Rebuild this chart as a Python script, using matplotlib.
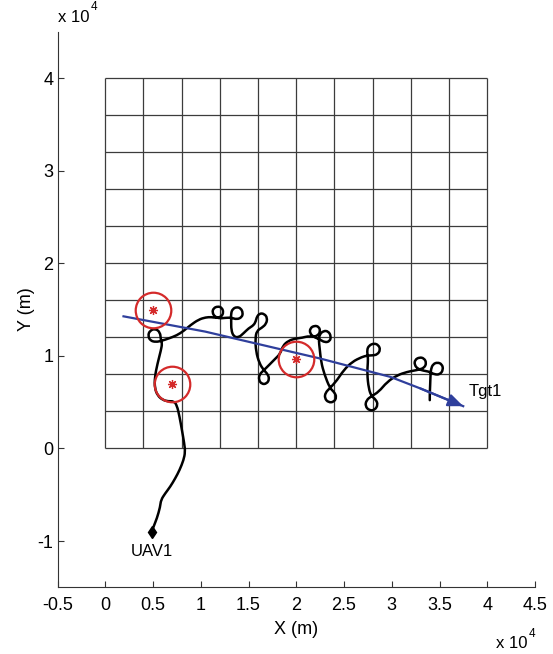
import matplotlib
matplotlib.use("Agg")
import matplotlib.pyplot as plt
from matplotlib.path import Path
from matplotlib.patches import PathPatch

plt.rcParams['font.family'] = ['Liberation Sans', 'DejaVu Sans']

# UAV1 flight path (m), start point first
path_x = [4880, 5050, 5410, 5750, 5830, 6280, 6800, 7330, 7780, 8200,
          8370, 8270, 8030, 7780, 7500, 7170, 6590, 6020, 5490, 5180,
          5180, 5470, 5830, 5960, 5810, 5750, 5230, 4650, 4480, 4710,
          5280, 5910, 6620, 7500, 8200, 8900, 9770, 10520, 11100, 11620,
          12150, 12390, 12200, 11780, 11340, 11200, 11470, 11990, 12570, 13190,
          13770, 14300, 14420, 14190, 13770, 13350, 13160, 13190, 13190, 13440,
          13960, 14480, 15010, 15530, 15760, 15870, 16180, 16650, 16970, 16860,
          16390, 15870, 15710, 15780, 16130, 16600, 17020, 17180, 16910, 16390,
          16060, 16160, 16600, 17180, 17750, 18330, 18590, 19170, 19900, 20640,
          21210, 21740, 22260, 22520, 22360, 21890, 21450, 21420, 21840, 22420,
          22990, 23520, 23640, 23360, 22840, 22420, 22360, 22450, 22600, 22940,
          23520, 23990, 24220, 23940, 23360, 22970, 23050, 23520, 24270, 24960,
          25840, 26890, 27450, 27970, 28500, 28810, 28600, 28130, 27600, 27400,
          27500, 27500, 27420, 27580, 27870, 28340, 28550, 28230, 27660, 27220,
          27340, 27870, 28630, 29510, 30560, 31610, 32270, 32840, 33420, 33630,
          33370, 32900, 32430, 32370, 32740, 33320, 33950, 34470, 35050, 35390,
          35260, 34780, 34310, 34100, 34050, 34020, 33980, 33980]
path_y = [-8980, -8440, -7540, -6290, -5560, -4840, -4130, -3220, -2330, -1250,
          -360, 550, 1980, 3420, 4680, 5110, 5090, 5240, 5700, 6510,
          7700, 9170, 10610, 11360, 11740, 12550, 12950, 12710, 12170, 11650,
          11490, 11630, 11870, 12220, 12690, 13300, 13920, 14160, 14190, 14100,
          14220, 14700, 15220, 15350, 15160, 14700, 14220, 14040, 14110, 14130,
          13930, 14170, 14650, 15140, 15280, 15080, 14600, 13730, 12800, 12080,
          11980, 12440, 12980, 13300, 13730, 14220, 14600, 14540, 14110, 13460,
          13030, 12710, 11900, 10470, 9210, 8450, 8020, 7480, 7000, 6940,
          7430, 8020, 8450, 9040, 9640, 10230, 11090, 11630, 11870, 11960,
          12120, 12060, 12190, 12660, 13160, 13270, 12980, 12440, 12030, 11810,
          11440, 11580, 12120, 12660, 12710, 12280, 11630, 10820, 9350, 8020,
          6510, 6080, 5540, 5020, 4970, 5430, 6030, 6510, 7370, 8450,
          9350, 9890, 10040, 10050, 10140, 10660, 11180, 11360, 11110, 10610,
          9960, 9310, 8100, 6480, 5650, 5270, 4730, 4160, 4090, 4570,
          5220, 5650, 6110, 7190, 7910, 8270, 8400, 8510, 8720, 9260,
          9750, 9850, 9580, 9040, 8580, 8400, 8290, 7990, 7990, 8510,
          9100, 9310, 9100, 8560, 7800, 6830, 5970, 5220]

# Tgt1 track (m)
tgt_x = [1910, 10470, 18330, 22520, 29860, 33000, 37480]
tgt_y = [14270, 12620, 10720, 9710, 7730, 6480, 4570]

# target detections (m)
obs_x = [5000, 7000, 20000]
obs_y = [15000, 7000, 9700]

# search grid cell edges (m)
cell_edges = [0, 4000, 8000, 12000, 16000, 20000, 24000, 28000, 32000, 36000, 40000]

x_ticks = [-5000, 0, 5000, 10000, 15000, 20000, 25000, 30000, 35000, 40000, 45000]
x_labels = ['-0.5', '0', '0.5', '1', '1.5', '2', '2.5', '3', '3.5', '4', '4.5']
y_ticks = [-10000, 0, 10000, 20000, 30000, 40000]
y_labels = ['-1', '0', '1', '2', '3', '4']

red = '#d42a2a'
blue = '#2f3f9c'

fig = plt.figure(figsize=(5.53, 6.54), dpi=100)
ax = fig.add_axes([0.104, 0.1018, 0.8635, 0.8497])

ax.vlines(cell_edges, cell_edges[0], cell_edges[-1], colors='#3c3c3c', lw=0.9, zorder=1)
ax.hlines(cell_edges, cell_edges[0], cell_edges[-1], colors='#3c3c3c', lw=0.9, zorder=1)

# flight path drawn as a smooth curve through the waypoints
pts = list(zip(path_x, path_y))
verts = [pts[0]]
codes = [Path.MOVETO]
for i in range(1, len(pts) - 1):
    mid = ((pts[i][0] + pts[i + 1][0]) / 2, (pts[i][1] + pts[i + 1][1]) / 2)
    verts += [pts[i], mid]
    codes += [Path.CURVE3, Path.CURVE3]
verts.append(pts[-1])
codes.append(Path.LINETO)
ax.add_patch(PathPatch(Path(verts, codes), fill=False, ec='black', lw=1.8,
                       joinstyle='round', capstyle='round', zorder=3))
ax.plot(path_x[0], path_y[0], marker='d', ms=6.5, color='black', mew=1, zorder=6)

ax.plot(tgt_x, tgt_y, color=blue, lw=1.6, zorder=4)
ax.annotate('', xy=(tgt_x[-1], tgt_y[-1]), xytext=(tgt_x[-2], tgt_y[-2]),
            arrowprops=dict(arrowstyle='-|>,head_length=0.6,head_width=0.25', color=blue,
                            lw=1.6, shrinkA=0, shrinkB=0, mutation_scale=15), zorder=4)

ax.plot(obs_x, obs_y, 'o', ms=25.6, mfc='none', mec=red, mew=1.6, zorder=5)
ax.plot(obs_x, obs_y, ls='none', marker=(8, 2, 0), ms=6.5, mec=red, mew=0.9, zorder=5)

ax.text(path_x[0], -11100, 'UAV1', fontsize=12, ha='center', va='center')
ax.text(38000, 6200, 'Tgt1', fontsize=12, ha='left', va='center')

ax.set_xlim(-5000, 45000)
ax.set_ylim(-15000, 45000)
ax.set_xticks(x_ticks)
ax.set_xticklabels(x_labels)
ax.set_yticks(y_ticks)
ax.set_yticklabels(y_labels)
for s in ['top', 'right']:
    ax.spines[s].set_visible(False)
for s in ['left', 'bottom']:
    ax.spines[s].set_color('#333333')
    ax.spines[s].set_linewidth(0.8)
ax.tick_params(direction='in', length=4, width=0.8, colors='#333333', labelcolor='black', labelsize=13)
ax.tick_params(axis='x', pad=7)
ax.tick_params(axis='y', pad=3)
ax.set_xlabel('X (m)', fontsize=13, labelpad=5)
ax.set_ylabel('Y (m)', fontsize=13, labelpad=2)

# exponent notes, MATLAB style
fig.text(58 / 553, 1 - 17 / 654, 'x 10', fontsize=12, ha='left', va='center')
fig.text(91 / 553, 1 - 7 / 654, '4', fontsize=8.5, ha='left', va='center')
fig.text(527 / 553, 1 - 644 / 654, 'x 10', fontsize=12, ha='right', va='center')
fig.text(529 / 553, 1 - 634 / 654, '4', fontsize=8.5, ha='left', va='center')

fig.savefig('out.png', dpi=100)
